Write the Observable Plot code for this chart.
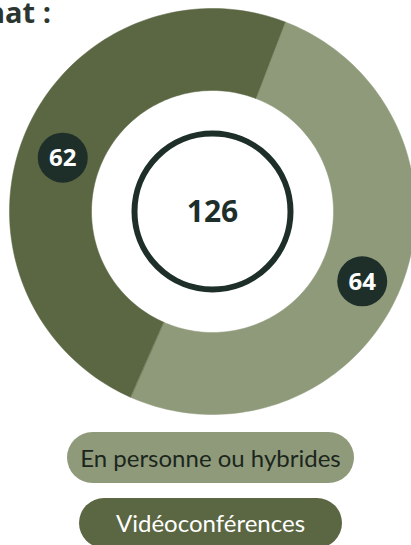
<!DOCTYPE html>
<html><head><meta charset="utf-8">
<script src="https://cdn.jsdelivr.net/npm/d3@7"></script>
<script src="https://cdn.jsdelivr.net/npm/@observablehq/plot@0.6"></script>
<style>
html,body{margin:0;padding:0;background:#fff;width:411px;height:545px;overflow:hidden;}
#wrap{position:relative;width:411px;height:545px;}
#title{position:absolute;left:-14px;top:-8px;font-family:"Open Sans",sans-serif;font-weight:700;font-size:29px;color:#2c3631;white-space:nowrap;}
.pill{position:absolute;display:flex;align-items:center;justify-content:center;font-family:Lato,sans-serif;font-size:24px;border-radius:26px;box-sizing:border-box;padding-bottom:1px;}
</style></head>
<body><div id="wrap"><div id="chart"></div><div id="title">nat :</div><div id="legend"></div></div>
<script>
const categories = ["En personne ou hybrides", "Vidéoconférences"];
const values = [64, 62];
const colors = ["#8f9a7a", "#5b6642"];
const textColors = ["#1b261d", "#ffffff"];
const badgeColor = "#1e2f2a";
const startDeg = 21;

const total = d3.sum(values);
const pie = d3.pie().sort(null).startAngle(startDeg * Math.PI / 180).endAngle(startDeg * Math.PI / 180 + 2 * Math.PI);
const arcs = pie(values);
const R = 1, r0 = 121 / 203;
const pts = [];
arcs.forEach((a, i) => {
  const n = 120;
  for (let k = 0; k <= n; k++) {
    const t = a.startAngle + (a.endAngle - a.startAngle) * k / n;
    pts.push({cat: categories[i], x: R * Math.sin(t), y: R * Math.cos(t)});
  }
  for (let k = n; k >= 0; k--) {
    const t = a.startAngle + (a.endAngle - a.startAngle) * k / n;
    pts.push({cat: categories[i], x: r0 * Math.sin(t), y: r0 * Math.cos(t)});
  }
});
const badges = arcs.map((a, i) => {
  const m = (a.startAngle + a.endAngle) / 2, rr = (R + r0) / 2;
  return {x: rr * Math.sin(m), y: rr * Math.cos(m), v: values[i]};
});

const W = 411, H = 425, cx = 212, cy = 211, px = 203;
const chart = Plot.plot({
  width: W, height: H, margin: 0,
  x: {domain: [-cx / px, (W - cx) / px], axis: null},
  y: {domain: [-(H - cy) / px, cy / px], axis: null},
  color: {domain: categories, range: colors},
  style: {background: "transparent", overflow: "hidden"},
  marks: [
    Plot.line(pts, {x: "x", y: "y", z: "cat", fill: "cat", stroke: "cat", strokeWidth: 0.5, curve: "linear-closed"}),
    Plot.dot([{x: 0, y: 0}], {x: "x", y: "y", r: 78, fill: "none", stroke: badgeColor, strokeWidth: 6}),
    Plot.text([{x: 0, y: 0, t: String(total)}], {x: "x", y: "y", text: "t", fontSize: 30, fontWeight: 700, fontFamily: "Open Sans", fill: badgeColor, dy: 1}),
    Plot.dot(badges, {x: "x", y: "y", r: 25, fill: badgeColor, dy: 8}),
    Plot.text(badges, {x: "x", y: "y", text: d => String(d.v), fontSize: 24, fontWeight: 700, fontFamily: "Open Sans", fill: "#ffffff", dy: 9})
  ]
});
document.getElementById("chart").appendChild(chart);

const legend = document.getElementById("legend");
const pillBoxes = [[67, 432, 287, 51], [79, 498, 263, 50]];
categories.forEach((c, i) => {
  const d = document.createElement("div");
  d.className = "pill";
  const [l, t, w, h] = pillBoxes[i];
  Object.assign(d.style, {left: l + "px", top: t + "px", width: w + "px", height: h + "px", background: colors[i], color: textColors[i]});
  d.textContent = c;
  legend.appendChild(d);
});
</script></body></html>
